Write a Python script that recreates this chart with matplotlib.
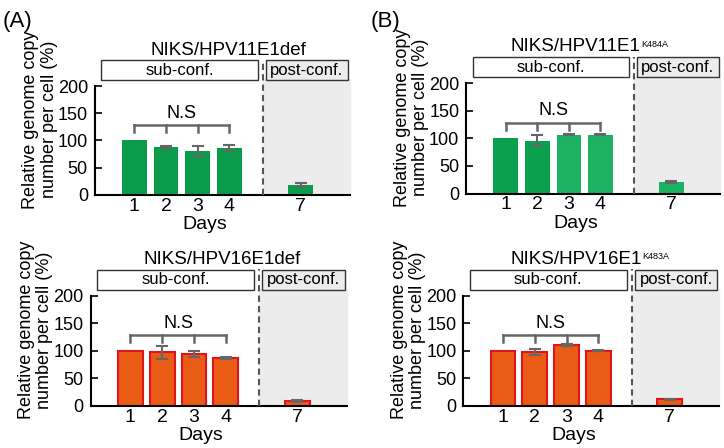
import matplotlib.pyplot as plt
from matplotlib.patches import Rectangle

plt.rcParams['font.family'] = ['Liberation Sans', 'DejaVu Sans']

# data
days = ['1', '2', '3', '4', '7']
pos = [1, 2, 3, 4, 6.25]

a_top_vals = [100, 88, 81, 86, 19]
a_top_err = [0, 1.5, 9, 5.5, 3]
a_bot_vals = [100, 97.5, 94.5, 87, 9]
a_bot_err = [0, 12, 5, 1.5, 2]
b_top_vals = [100, 96, 106.5, 106.5, 21]
b_top_err = [0, 10, 1, 1, 1]
b_bot_vals = [100, 98, 110, 100, 12]
b_bot_err = [0, 6, 2, 1, 1]

green = '#0a9b4b'
green_b = ['#0aa04f', '#0aa04f', '#1cb163', '#1cb163', '#1cb163']
orange = '#ea5b16'
red_edge = '#e0141c'
err_col = '#666666'

fig = plt.figure(figsize=(7.24, 4.48), dpi=100)


def panel(rect, vals, errs, colors, title, title_x, sup=None, edge=None):
    ax = fig.add_axes(rect)
    ax.axvspan(5.05, 7.8, ymin=0, ymax=1.06, color='#ececec', zorder=0, clip_on=False)
    ax.bar(pos, vals, width=0.78, color=colors,
           edgecolor=edge if edge else 'none', linewidth=1.5 if edge else 0, zorder=2)
    ax.errorbar(pos[1:], vals[1:], yerr=errs[1:], fmt='none', ecolor=err_col,
                elinewidth=1.5, capsize=4, capthick=1.5, zorder=3)
    ax.plot([5.05, 5.05], [0, 248], ls=(0, (3, 2)), color='#555555', lw=1.5,
            clip_on=False, zorder=4)
    # bracket
    ax.plot([1, 4], [128, 128], color=err_col, lw=1.8, zorder=3)
    for p in pos[:4]:
        ax.plot([p, p], [128, 116], color=err_col, lw=1.8, zorder=3)
    ax.text(2.5, 150, 'N.S', ha='center', va='center', fontsize=13)
    # condition boxes
    ax.add_patch(Rectangle((-0.05, 211), 4.95, 36, facecolor='white', edgecolor='#333333',
                           lw=1, clip_on=False))
    ax.text(2.42, 229, 'sub-conf.', ha='center', va='center', fontsize=12)
    ax.add_patch(Rectangle((5.15, 211), 2.6, 36, facecolor='#ececec', edgecolor='#333333',
                           lw=1, clip_on=False))
    ax.text(6.45, 229, 'post-conf.', ha='center', va='center', fontsize=12)
    t = ax.text(title_x, 266, title, ha='center', va='center', fontsize=13.5)
    if sup:
        ax.annotate(sup, xy=(1, 1), xycoords=t, xytext=(0.5, -1), textcoords='offset points',
                    ha='left', va='top', fontsize=6.5)

    ax.set_xlim(-0.25, 7.8)
    ax.set_ylim(0, 200)
    ax.set_yticks([0, 50, 100, 150, 200])
    ax.set_xticks(pos)
    ax.set_xticklabels(days)
    ax.tick_params(axis='y', direction='in', length=5, width=1.2, labelsize=13, pad=5)
    ax.tick_params(axis='x', length=0, labelsize=14, pad=2)
    ax.spines['top'].set_visible(False)
    ax.spines['right'].set_visible(False)
    ax.spines['left'].set_linewidth(1.5)
    ax.spines['bottom'].set_linewidth(1.5)
    ax.spines['left'].set_bounds(0, 200)
    ax.set_xlabel('Days', fontsize=14)
    ax.xaxis.set_label_coords(0.43, -0.27)
    ax.xaxis.label.set_va('center')
    ax.set_ylabel('Relative genome copy\nnumber per cell (%)', fontsize=13,
                  linespacing=1.1)
    ax.yaxis.set_label_coords(-0.215, 0.69)
    ax.yaxis.label.set_va('center')
    return ax


panel([0.131, 0.565, 0.352, 0.243], a_top_vals, a_top_err, green, 'NIKS/HPV11E1def', 3.97)
panel([0.125, 0.094, 0.354, 0.246], a_bot_vals, a_bot_err, orange, 'NIKS/HPV16E1def', 3.9,
      edge=red_edge)
panel([0.644, 0.568, 0.351, 0.246], b_top_vals, b_top_err, green_b,
      'NIKS/HPV11E1', 3.2, sup='K484A')
panel([0.640, 0.094, 0.353, 0.246], b_bot_vals, b_bot_err, orange,
      'NIKS/HPV16E1', 3.3, sup='K483A', edge=red_edge)

fig.text(0.003, 0.975, '(A)', fontsize=16, va='top')
fig.text(0.512, 0.975, '(B)', fontsize=16, va='top')

fig.savefig('out.png', dpi=100)
